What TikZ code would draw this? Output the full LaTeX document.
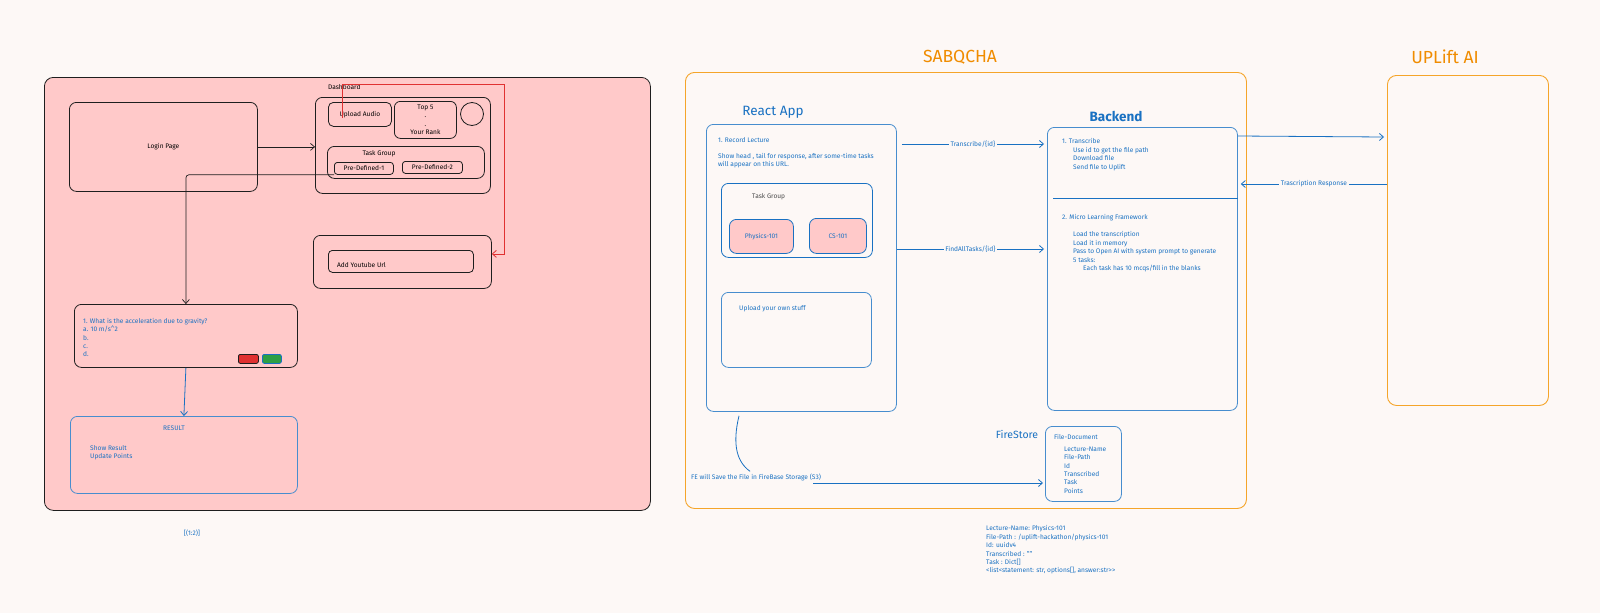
\documentclass[tikz,border=0pt]{standalone}
\usepackage{fontspec}
\setmainfont{Fira Sans}
\usetikzlibrary{arrows.meta,positioning}

\definecolor{canvas}{HTML}{FDF8F6}
\definecolor{pinkfill}{HTML}{FFC9C9}
\definecolor{inkblue}{HTML}{1971C2}
\definecolor{inkorange}{HTML}{F08C00}
\definecolor{boxorange}{HTML}{F5A52A}
\definecolor{inkblack}{HTML}{1E1E1E}
\definecolor{inkred}{HTML}{E03131}
\definecolor{btngreen}{HTML}{2F9E44}

\tikzset{
  sketch/.style={draw=inkblack, line width=0.8pt, rounded corners=7pt, anchor=north west, inner sep=0pt},
  bluebox/.style={draw=inkblue!80, line width=0.8pt, rounded corners=7pt, anchor=north west, inner sep=0pt},
  orangebox/.style={draw=boxorange, line width=0.9pt, rounded corners=9pt, anchor=north west, inner sep=0pt},
  txt/.style={font=\fontsize{6.6}{8.4}\selectfont, inner sep=0pt, align=left},
  title/.style={font=\fontsize{17.5}{20}\selectfont, text=inkorange, inner sep=0pt},
  subtitle/.style={font=\fontsize{13.5}{16}\selectfont, text=inkblue, inner sep=0pt},
  barb/.style={-{Straight Barb[length=4pt,width=7pt]}},
  blkline/.style={draw=inkblack, line width=0.7pt},
  blueline/.style={draw=inkblue, line width=0.8pt},
  redline/.style={draw=inkred, line width=0.8pt},
  onlabel/.style={txt, fill=canvas, inner xsep=1.5pt, inner ysep=1pt, text=inkblue},
}

\begin{document}
\begin{tikzpicture}[x=1pt, y=-1pt]

\useasboundingbox (0,0) rectangle (1600,613);
\fill [canvas] (0,0) rectangle (1600,613);

% ---- left mock-up panel ----
\node [sketch, fill=pinkfill, rounded corners=9pt, minimum width=606, minimum height=433] (panel) at (44,77) {};

\node [sketch, minimum width=188, minimum height=89, font=\fontsize{6.6}{8}\selectfont] (login) at (69,102) {Login Page};

\node [txt, anchor=west] (dashlbl) at (328,87) {Dashboard};
\node [sketch, minimum width=175, minimum height=96] (dash) at (315,97) {};
\node [sketch, rounded corners=5pt, minimum width=63, minimum height=24, txt] (upl) at (328,102) {Upload Audio};
\node [sketch, rounded corners=6pt, minimum width=62, minimum height=37, txt, align=center] (top) at (394,101) {Top 5\\.\\.\\Your Rank};
\node [draw=inkblack, line width=0.8pt, circle, minimum size=23] (avatar) at (472,114) {};
\node [sketch, minimum width=157, minimum height=32] (tgroup) at (327,146) {};
\node [txt] (tglbl) at (379,154) {Task Group};
\node [sketch, rounded corners=3pt, minimum width=59, minimum height=12, txt] (pd1) at (334,162) {Pre-Defined-1};
\node [sketch, rounded corners=3pt, minimum width=60, minimum height=12, txt] (pd2) at (402,161) {Pre-Defined-2};

\node [sketch, minimum width=178, minimum height=53] (yt) at (313,235) {};
\node [sketch, rounded corners=4pt, minimum width=145, minimum height=22] (ytin) at (328,250) {};
\node [txt, anchor=west] (ytlbl) at (337,265) {Add Youtube Url};

\node [sketch, minimum width=223, minimum height=63] (quest) at (74,304) {};
\node [txt, text=inkblue, anchor=north west] (qtext) at (83,318) {1. What is the acceleration due to gravity?\\a. 10 m/s\textasciicircum{}2\\b.\\c.\\d.};
\node [sketch, rounded corners=2pt, fill=inkred, minimum width=20, minimum height=9] (wrong) at (238,354) {};
\node [sketch, draw=inkblue, rounded corners=2pt, fill=btngreen, minimum width=19, minimum height=9] (right) at (262,354) {};

\node [bluebox, minimum width=227, minimum height=77] (result) at (70,416) {};
\node [txt, text=inkblue] (reslbl) at (174,428) {RESULT};
\node [txt, text=inkblue, anchor=north west] (restext) at (90,445) {Show Result\\Update Points};

\node [txt, text=inkblue] (pageno) at (192,533) {[(1:2)]};

% left panel connectors
\draw [blkline, barb] (login.east) -- (login.east -| dash.west);
\coordinate (redS) at (342,118);
\coordinate (redT) at (504,84);
\draw [redline, barb] (redS) |- (redT) |- ([yshift=8pt]yt.east);
\draw [blkline, barb, rounded corners=3pt] (pd1.south west) -| (quest.north);
\draw [blueline, barb] (quest.south) -- (result.north);

% ---- SABQCHA ----
\node [orangebox, minimum width=561, minimum height=436] (sabq) at (685,72) {};
\node [title] (sabqlbl) at (960,57) {SABQCHA};

\node [subtitle] (reactlbl) at (773,112) {React App};
\node [bluebox, minimum width=190, minimum height=287] (react) at (706,124) {};
\node [txt, text=inkblue, anchor=west] (rec) at (718,140) {1. Record Lecture};
\node [txt, text=inkblue, anchor=north west] (rectext) at (718,153) {Show head , tail for response, after some-time tasks\\will appear on this URL.};
\node [bluebox, draw=inkblue, minimum width=151, minimum height=74] (rtgroup) at (721,183) {};
\node [txt, text=inkblack!80, anchor=west] (rtglbl) at (752,197) {Task Group};
\node [bluebox, draw=inkblue, fill=pinkfill, minimum width=64, minimum height=34, txt, text=inkblue] (phys) at (729,219) {Physics-101};
\node [bluebox, draw=inkblue, fill=pinkfill, minimum width=57, minimum height=35, txt, text=inkblue] (cs) at (809,218) {CS-101};
\node [bluebox, minimum width=150, minimum height=75] (own) at (721,292) {};
\node [txt, text=inkblue, anchor=west] (ownlbl) at (739,309) {Upload your own stuff};

\node [txt, text=inkblue, anchor=west] (fe) at (691,477) {FE will Save the File in FireBase Storage (S3)};

\node [subtitle, font=\bfseries\fontsize{13.5}{16}\selectfont] (backlbl) at (1116,116) {Backend};
\node [bluebox, minimum width=190, minimum height=283] (backend) at (1047,127) {};
\coordinate (divL) at (1053,198);
\draw [blueline] (divL) -- (divL -| backend.east);
\node [txt, text=inkblue, anchor=north west] (step1) at (1062,138.5) {1. Transcribe\\\hspace*{11pt}Use id to get the file path\\\hspace*{11pt}Download file\\\hspace*{11pt}Send file to Uplift};
\node [txt, text=inkblue, anchor=west] (step2) at (1062,218) {2. Micro Learning Framework};
\node [txt, text=inkblue, anchor=north west] (step2text) at (1073,231.5) {Load the transcription\\Load it in memory\\Pass to Open AI with system prompt to generate\\5 tasks:\\\hspace*{10pt}Each task has 10 mcqs/fill in the blanks};

\node [font=\fontsize{10.5}{12}\selectfont, text=inkblue, inner sep=0pt] (firelbl) at (1017,434) {FireStore};
\node [bluebox, minimum width=76, minimum height=75] (fire) at (1045,426) {};
\node [txt, text=inkblue, anchor=west] (doclbl) at (1054,437) {File-Document};
\node [txt, text=inkblue, anchor=north west] (fields) at (1064,446.5) {Lecture-Name\\File-Path\\Id\\Transcribed\\Task\\Points};

\node [txt, text=inkblue, anchor=north west] (sample) at (986,525.5) {Lecture-Name: Physics-101\\File-Path : /uplift-hackathon/physics-101\\Id: uuidv4\\Transcribed : ""\\Task : Dict[]\\<{}list<{}statement: str, options[], answer:str>{}>};

% ---- UPLift AI ----
\node [orangebox, minimum width=161, minimum height=330] (uplift) at (1387,75) {};
\node [title] (upliftlbl) at (1445,57) {UPLift AI};

% service connectors
\draw [blueline, barb] ([xshift=5pt]react.east |- 0,144) -- node [onlabel] {Transcribe/\{id\}} ([xshift=-3pt]backend.west |- 0,144);
\draw [blueline, barb] (react.east |- 0,249) -- node [onlabel] {FindAllTasks/\{id\}} ([xshift=-3pt]backend.west |- 0,249);
\draw [blueline, barb] (backend.east |- 0,136) -- ([xshift=-3pt]uplift.west |- 0,137);
\draw [blueline, barb] (uplift.west |- 0,184) -- node [onlabel] {Trascription Response} ([xshift=3pt]backend.east |- 0,184);

\coordinate (curveS) at ([xshift=33pt,yshift=-4pt]react.south west);
\draw [blueline] (curveS) .. controls (732,445) and (737,462) .. ([xshift=59pt,yshift=2pt]fe.north west);
\coordinate (feEnd) at (813,483);
\draw [blueline, barb] (feEnd) -- ([xshift=-2pt]feEnd -| fire.west);

\end{tikzpicture}
\end{document}
